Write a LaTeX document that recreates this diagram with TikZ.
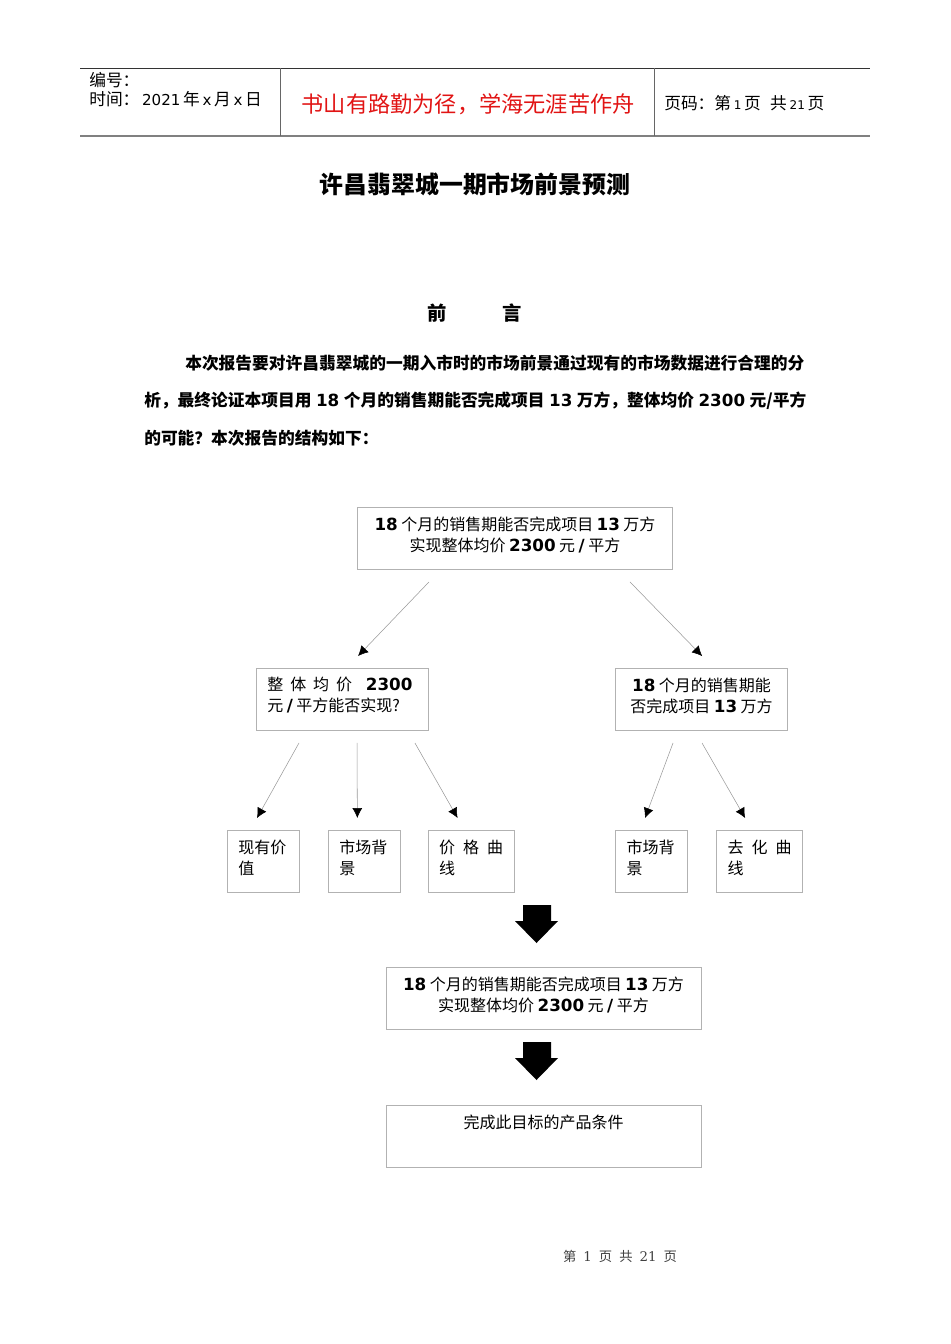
\documentclass[tikz,border=0pt]{standalone}
\usepackage{fontspec}
\setmainfont{Noto Sans CJK SC}
\newfontfamily\dejavu{DejaVu Sans}
\newfontfamily\dejaserif{DejaVu Serif}
\usetikzlibrary{arrows.meta, positioning}
\newcommand{\nm}[1]{\hspace{2.6pt}{\dejavu\bfseries\fontsize{12.55pt}{15.75pt}\selectfont #1}\hspace{2.6pt}}
\newcommand{\nb}[1]{{\dejavu\bfseries\fontsize{12.55pt}{15.75pt}\selectfont #1}\hspace{2.6pt}}
\newcommand{\lt}[1]{\hspace{2pt}{\dejavu\fontsize{11.3pt}{12pt}\selectfont #1}\hspace{2pt}}
\newcommand{\spread}[1]{\makebox[\hsize][s]{#1}}
\definecolor{headred}{RGB}{225,20,20}
\tikzset{
  body/.style={font=\fontsize{12.55pt}{15.75pt}\selectfont},
  plain/.style={body, inner sep=0pt, anchor=base west},
  para/.style={plain, font=\fontsize{12.55pt}{15.75pt}\selectfont\bfseries},
  box/.style={rectangle, draw=black!30, line width=.6pt, font=\fontsize{12pt}{15.75pt}\selectfont, align=left,
    inner xsep=8.2pt, inner ysep=0pt, minimum height=46.6pt, execute at end node={\par\vspace{6pt}}},
  wide/.style={box, align=center, inner xsep=0pt, text width=236.4pt},
  mid/.style={box, text width=112.6pt},
  small/.style={box, text width=37.8pt},
  smallw/.style={box, text width=48pt},
  arrow/.style={draw=black!40, line width=.4pt, -{Latex[black, length=7.5pt, width=7.5pt]}}
}
\begin{document}
\begin{tikzpicture}[x=.75pt, y=-.75pt, node distance=21pt]
\useasboundingbox (0,0) rectangle (950,1344);

% Header
\draw[black!80, line width=.6pt] (80,68.5) -- (870,68.5);
\draw[black!50, line width=1pt] (80,136) -- (870,136);
\draw[black!60, line width=.6pt] (280.5,68.5) -- (280.5,136);
\draw[black!60, line width=.6pt] (654.5,68.5) -- (654.5,136);
\node[plain] (serial) at (89,87) {编号：};
\node[plain] (datetime) at (89,106) {时间：\lt{2021}年\lt{x}月\lt{x}日};
\node[plain, font=\fontsize{16.65pt}{20pt}\selectfont, text=headred] (motto) at (301.5,113) {书山有路勤为径，学海无涯苦作舟};
\node[plain] (pageinfo) at (664,110) {页码：第\lt{\fontsize{9pt}{10pt}\selectfont 1}页\hspace{7pt}共\lt{\fontsize{9pt}{10pt}\selectfont 21}页};

% Title and text
\node[plain, anchor=base, font=\fontsize{17.9pt}{20pt}\selectfont\bfseries] (title) at (475,194) {许昌翡翠城一期市场前景预测};
\node[plain, anchor=base, font=\fontsize{14.5pt}{20pt}\selectfont\bfseries] (preface) at (475,320.5) {\makebox[71pt][s]{前\hfil 言}};
\node[para] (line_a) at (185,369) {本次报告要对许昌翡翠城的一期入市时的市场前景通过现有的市场数据进行合理的分};
\node[para] (line_b) at (144,406.5) {\makebox[496.5pt][s]{析，最终论证本项目用 {\dejavu 18} 个月的销售期能否完成项目 {\dejavu 13} 万方，整体均价 {\dejavu 2300} 元/平方}};
\node[para] (line_c) at (144,444) {的可能？本次报告的结构如下：};

% Nodes
\node[wide] (goal) at (515,538.5) {\nb{18}个月的销售期能否完成项目\nm{13}万方\\实现整体均价\nm{2300}元\nm{/}平方};
\node[mid] (price) at (342.5,699.5) {\makebox[108.8pt][s]{整\hfil 体\hfil 均\hfil 价\hfil\hfil {\dejavu\bfseries\fontsize{12.55pt}{15.75pt}\selectfont 2300}}\\元\nm{/}平方能否实现?};
\node[mid, align=center] (volume) at (701.5,699.5) {\nb{18}个月的销售期能\\否完成项目\nm{13}万方};
\node[small] (value) at (263.5,861.5) {现有价\\值};
\node[small, right=of value] (market_a) {市场背\\景};
\node[smallw, right=20pt of market_a] (curve_a) {\spread{价\hfil 格\hfil 曲}\\线};
\node[small] (market_b) at (651.75,861.5) {市场背\\景};
\node[smallw, right=of market_b] (curve_b) {\spread{去\hfil 化\hfil 曲}\\线};
\node[wide] (result) at (543.5,998.5) {\nb{18}个月的销售期能否完成项目\nm{13}万方\\实现整体均价\nm{2300}元\nm{/}平方};
\node[wide, below=56.2pt of result] (product) {完成此目标的产品条件\\\mbox{}};
\node[inner sep=0pt, anchor=base, text=black!75, font=\fontsize{10pt}{12pt}\selectfont] (footer) at (620,1261)
  {\makebox[85.5pt][s]{第\hfil{\dejaserif 1}\hfil 页\hfil 共\hfil{\dejaserif 21}\hfil 页}};

% Arrows
\draw[arrow, shorten <=12.5pt, shorten >=12.5pt] ([xshift=-55.9pt]goal.south) -- ([xshift=3pt]price.north);
\draw[arrow, shorten <=12.5pt, shorten >=12.5pt] ([xshift=77.5pt]goal.south) -- ([xshift=9.2pt]volume.north);
\draw[arrow, shorten <=10.3pt, shorten >=10.3pt] ([xshift=-27.6pt]price.south) -- ([xshift=-9.9pt]value.north);
\draw[arrow, shorten <=9pt, shorten >=9pt] ([xshift=10.9pt]price.south) -- ([xshift=-5.4pt]market_a.north);
\draw[arrow, shorten <=10.4pt, shorten >=10.4pt] ([xshift=49.2pt]price.south) -- ([xshift=-5pt]curve_a.north);
\draw[arrow, shorten <=9.6pt, shorten >=9.6pt] ([xshift=-18pt]volume.south) -- ([xshift=-8.4pt]market_b.north);
\draw[arrow, shorten <=10.4pt, shorten >=10.4pt] ([xshift=-4.8pt]volume.south) -- ([xshift=-5.7pt]curve_b.north);

% Block arrows
\foreach \top in {905,1042} {
  \fill[black] (523,\top) -- (551,\top) -- (551,\top+16) -- (558,\top+16) -- (536.5,\top+38)
    -- (515,\top+16) -- (523,\top+16) -- cycle;
}
\end{tikzpicture}
\end{document}
